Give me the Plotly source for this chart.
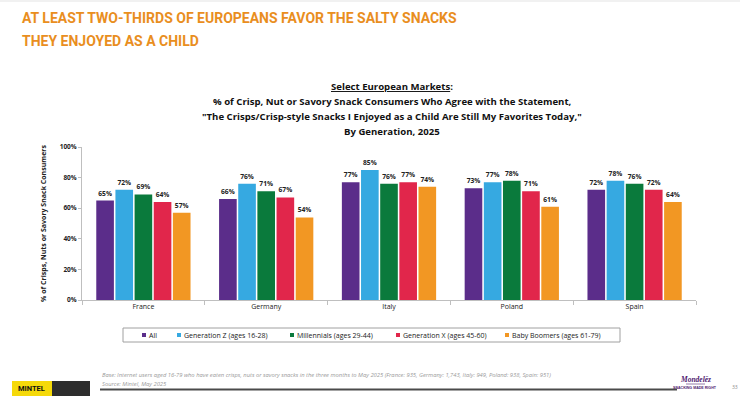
import plotly.graph_objects as go

markets = ["France", "Germany", "Italy", "Poland", "Spain"]
series_names = ["All", "Generation Z (ages 16-28)", "Millennials (ages 29-44)",
                "Generation X (ages 45-60)", "Baby Boomers (ages 61-79)"]
v_all = [65, 66, 77, 73, 72]
v_genz = [72, 76, 85, 77, 78]
v_mill = [69, 71, 76, 78, 76]
v_genx = [64, 67, 77, 71, 72]
v_boom = [57, 54, 74, 61, 64]
colors = ["#5B2D8A", "#36A9E1", "#0A7A3C", "#E1264B", "#F29723"]
y_ticks = [0, 20, 40, 60, 80, 100]
title_lines = ["AT LEAST TWO-THIRDS OF EUROPEANS FAVOR THE SALTY SNACKS", "THEY ENJOYED AS A CHILD"]
subtitle_lines = ["<u>Select European Markets</u>:",
                  "% of Crisp, Nut or Savory Snack Consumers Who Agree with the Statement,",
                  "\"The Crisps/Crisp-style Snacks I Enjoyed as a Child Are Still My Favorites Today,\"",
                  "By Generation, 2025"]
footnote = ("Base: Internet users aged 16-79 who have eaten crisps, nuts or savory snacks in the three months "
            "to May 2025 (France: 935, Germany: 1,743, Italy: 949, Poland: 938, Spain: 951)")
source = "Source: Mintel, May 2025"

W, H = 740, 400
L, R, T, B = 82, 44, 147, 100


def px(x):
    return (x - L) / (W - L - R)


def py(y):
    return (H - B - y) / (H - T - B)


fig = go.Figure()
for name, vals, col in zip(series_names, [v_all, v_genz, v_mill, v_genx, v_boom], colors):
    fig.add_trace(go.Bar(
        x=markets, y=vals, name=name, marker=dict(color=col, line=dict(width=0)),
        text=[f"<b>{v}%</b>" for v in vals], textposition="outside",
        textfont=dict(size=6.7, color="#222", family="Open Sans"),
        cliponaxis=False, showlegend=False,
    ))

fig.update_layout(
    width=W, height=H, margin=dict(l=L, r=R, t=T, b=B),
    paper_bgcolor="white", plot_bgcolor="white",
    barmode="group", bargap=0.22, bargroupgap=0.08,
    font=dict(family="Open Sans", color="#222"),
    showlegend=False,
    xaxis=dict(showline=True, linecolor="#BFBFBF", linewidth=1, ticks="outside",
               tickson="boundaries", ticklen=4, tickcolor="#BFBFBF",
               tickfont=dict(size=7, color="#222"), showgrid=False),
    yaxis=dict(range=[0, 100], tickvals=y_ticks, ticktext=[f"<b>{t}%</b>" for t in y_ticks],
               showline=True, linecolor="#BFBFBF", linewidth=1, ticks="outside",
               ticklen=3, tickcolor="#BFBFBF", showgrid=False, zeroline=False,
               tickfont=dict(size=6.5, color="#222", family="Open Sans"),
               title=dict(text="<b>% of Crisps, Nuts or Savory Snack Consumers</b>",
                          font=dict(size=7, color="#222"), standoff=12)),
)

ann = []
shapes = []

# Title
for i, line in enumerate(title_lines):
    ann.append(dict(text=f"<b>{line}</b>", x=px(20), y=py(18 + 23 * i), xref="paper", yref="paper",
                    xanchor="left", yanchor="middle", showarrow=False,
                    font=dict(family="Roboto", size=14, color="#E98E1E")))
# Subtitle
for i, line in enumerate(subtitle_lines):
    ann.append(dict(text=f"<b>{line}</b>", x=px(392), y=py(86 + 15 * i), xref="paper", yref="paper",
                    xanchor="center", yanchor="middle", showarrow=False,
                    font=dict(family="Open Sans", size=9.6, color="#111")))

# Manual legend (marker directly before label, as in the reference)
legend_x = [140, 175, 288, 394, 503]
shapes.append(dict(type="rect", xref="paper", yref="paper", x0=px(123), x1=px(620), y0=py(342), y1=py(328),
                   line=dict(color="#A0A0A0", width=1), fillcolor="rgba(0,0,0,0)"))
for name, col, lx in zip(series_names, colors, legend_x):
    shapes.append(dict(type="rect", xref="paper", yref="paper", x0=px(lx + 2), x1=px(lx + 6),
                       y0=py(337), y1=py(333), fillcolor=col, line=dict(width=0)))
    ann.append(dict(text=name, x=px(lx + 7), y=py(335), xref="paper", yref="paper",
                    xanchor="left", yanchor="middle", showarrow=False,
                    font=dict(family="Open Sans", size=7, color="#222")))

# Footer
ann.append(dict(text=f"<i>{footnote}</i>", x=px(100), y=py(375), xref="paper", yref="paper",
                xanchor="left", yanchor="middle", showarrow=False,
                font=dict(family="Open Sans", size=5.8, color="#9A9A9A")))
ann.append(dict(text=f"<i>{source}</i>", x=px(100), y=py(383.5), xref="paper", yref="paper",
                xanchor="left", yanchor="middle", showarrow=False,
                font=dict(family="Open Sans", size=5.8, color="#9A9A9A")))
ann.append(dict(text="<b>MINTEL</b>", x=px(31), y=py(388.5), xref="paper", yref="paper",
                xanchor="center", yanchor="middle", showarrow=False,
                font=dict(family="Roboto", size=7.5, color="#111")))
ann.append(dict(text="<b><i>Mondelēz</i></b>", x=px(695), y=py(379), xref="paper", yref="paper",
                xanchor="center", yanchor="middle", showarrow=False,
                font=dict(family="Liberation Serif", size=7.5, color="#4F2170")))
ann.append(dict(text="<b>SNACKING MADE RIGHT</b>", x=px(695), y=py(388), xref="paper", yref="paper",
                xanchor="center", yanchor="middle", showarrow=False,
                font=dict(family="Liberation Sans", size=3.6, color="#4F2170")))
ann.append(dict(text="33", x=px(735), y=py(387), xref="paper", yref="paper",
                xanchor="center", yanchor="middle", showarrow=False,
                font=dict(family="Open Sans", size=5, color="#888")))
fig.update_layout(annotations=ann)

shapes += [
    dict(type="line", xref="paper", yref="paper", x0=px(0), x1=px(W), y0=py(1), y1=py(1),
         line=dict(color="#E3E3E3", width=1)),
    dict(type="rect", xref="paper", yref="paper", x0=px(12), x1=px(52), y0=py(396), y1=py(381),
         fillcolor="#F5D90A", line=dict(width=0)),
    dict(type="rect", xref="paper", yref="paper", x0=px(52), x1=px(90), y0=py(396), y1=py(381),
         fillcolor="#2E2E2E", line=dict(width=0)),
    dict(type="line", xref="paper", yref="paper", x0=px(100), x1=px(677), y0=py(389.5), y1=py(389.5),
         line=dict(color="#4A4A4A", width=2)),
    dict(type="line", xref="paper", yref="paper", x0=px(686), x1=px(705), y0=py(384), y1=py(384),
         line=dict(color="#4F2170", width=0.6)),
]
fig.update_layout(shapes=shapes)

fig.write_html("out.html")
